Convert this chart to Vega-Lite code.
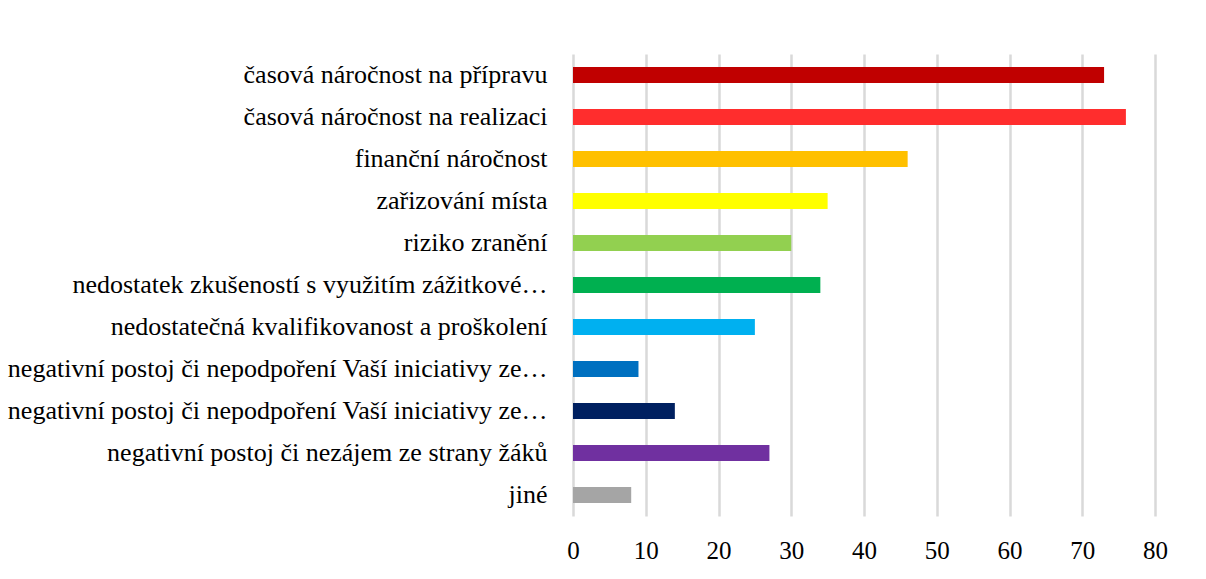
{
  "$schema": "https://vega.github.io/schema/vega-lite/v6.json",
  "width": 1206,
  "height": 579,
  "autosize": {"type": "fit", "contains": "padding"},
  "padding": {"left": 6, "top": 54, "right": 38, "bottom": 16},
  "config": {"view": {"stroke": null}, "font": "Liberation Serif"},
  "data": {
    "values": [
      {"kat": "časová náročnost na přípravu", "pocet": 73},
      {"kat": "časová náročnost na realizaci", "pocet": 76},
      {"kat": "finanční náročnost", "pocet": 46},
      {"kat": "zařizování místa", "pocet": 35},
      {"kat": "riziko zranění", "pocet": 30},
      {"kat": "nedostatek zkušeností s využitím zážitkové pedagogiky", "pocet": 34},
      {"kat": "nedostatečná kvalifikovanost a proškolení", "pocet": 25},
      {"kat": "negativní postoj či nepodpoření Vaší iniciativy ze strany vedení", "pocet": 9},
      {"kat": "negativní postoj či nepodpoření Vaší iniciativy ze strany kolegů", "pocet": 14},
      {"kat": "negativní postoj či nezájem ze strany žáků", "pocet": 27},
      {"kat": "jiné", "pocet": 8}
    ]
  },
  "mark": {"type": "bar"},
  "encoding": {
    "y": {
      "field": "kat", "type": "nominal", "sort": null,
      "scale": {"paddingInner": 0.62, "paddingOuter": 0.31},
      "axis": {
        "title": null, "domain": false, "ticks": false, "grid": false,
        "labelFont": "Liberation Serif",
        "labelFontSize": 26, "labelColor": "#000000", "labelPadding": 26, "labelLimit": 800,
        "labelExpr": "indexof(datum.label, ' strany vedení') > 0 || indexof(datum.label, ' strany kolegů') > 0 ? slice(datum.label, 0, 50) + '…' : indexof(datum.label, ' pedagogiky') > 0 ? slice(datum.label, 0, 42) + '…' : datum.label"
      }
    },
    "x": {
      "field": "pocet", "type": "quantitative",
      "scale": {"domain": [0, 80], "nice": false},
      "axis": {
        "title": null, "domain": false, "ticks": false, "grid": true,
        "gridColor": "#D9D9D9", "gridWidth": 2.5, "tickCount": 8, "labelFlush": false,
        "labelFont": "Liberation Serif",
        "labelFontSize": 25, "labelColor": "#000000", "labelPadding": 22
      }
    },
    "color": {
      "field": "kat", "type": "nominal", "legend": null,
      "scale": {
        "domain": ["časová náročnost na přípravu", "časová náročnost na realizaci", "finanční náročnost", "zařizování místa", "riziko zranění", "nedostatek zkušeností s využitím zážitkové pedagogiky", "nedostatečná kvalifikovanost a proškolení", "negativní postoj či nepodpoření Vaší iniciativy ze strany vedení", "negativní postoj či nepodpoření Vaší iniciativy ze strany kolegů", "negativní postoj či nezájem ze strany žáků", "jiné"],
        "range": ["#C00000", "#FF2D2D", "#FFC000", "#FFFF00", "#92D050", "#00B050", "#00B0F0", "#0070C0", "#002060", "#7030A0", "#A5A5A5"]
      }
    }
  }
}
